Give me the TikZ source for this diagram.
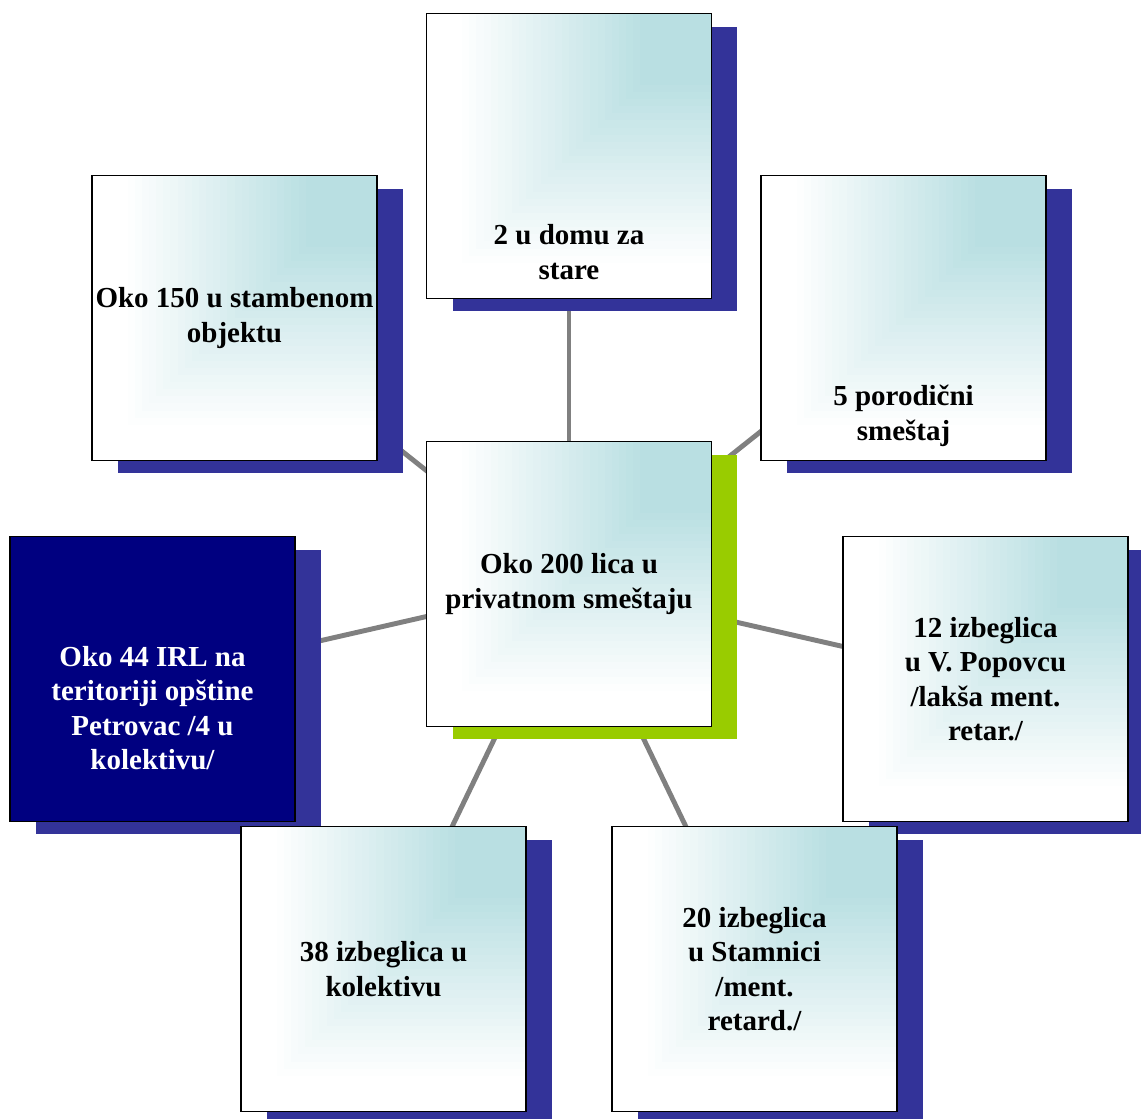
\documentclass[tikz,border=0pt]{standalone}
\usepackage{fontspec}
\setmainfont{Liberation Serif}
\usetikzlibrary{shadows,backgrounds}

\definecolor{boxteal}{RGB}{185,223,226}
\definecolor{shadowblue}{RGB}{51,51,153}
\definecolor{darknavy}{RGB}{0,0,128}
\definecolor{limegreen}{RGB}{153,204,0}
\definecolor{linkgray}{RGB}{128,128,128}

\begin{document}
\begin{tikzpicture}[
	x=0.02cm,y=-0.02cm,
	basebox/.style={
		draw=black,line width=1pt,
		minimum width=5.7cm,
		minimum height=5.7cm,
		inner sep=0pt,
		align=center,
		font=\fontsize{16.5}{19.6}\selectfont\bfseries,
		drop shadow={shadow xshift=0.52cm,shadow yshift=-0.26cm,fill=shadowblue,opacity=1},
	},
	% light box, gradient from the upper right corner
	box/.style={basebox,fill=white,
		path picture={
			\foreach \i in {0,...,40}{
				\pgfmathsetmacro\s{5.7*(1-\i/40)}
				\pgfmathtruncatemacro\pct{min(100,max(0,100*(0.9-(1-\i/40))/0.65))}
				\fill[boxteal!\pct!white] (path picture bounding box.north east)
					rectangle ++(-\s cm,-\s cm);
			}
		}},
	txt/.style={inner sep=0pt,align=center,
		font=\fontsize{16.5}{19.6}\selectfont\bfseries},
	link/.style={draw=linkgray,line width=2.8pt},
]

\useasboundingbox (0,0) rectangle (1141,1118);

% Centre box
\node [box,drop shadow={shadow xshift=0.52cm,shadow yshift=-0.26cm,fill=limegreen,opacity=1}]
	(mid) at (569,584) {Oko 200 lica u\\privatnom smeštaju};

% Outer boxes
\node [box] (top) at (569,156) {};
\node [txt] at ([yshift=-1.92cm]top.center) {2 u domu za\\stare};

\node [box] (tl) at (234.5,318) {Oko 150 u stambenom\\objektu};

\node [box] (tr) at (903.5,318) {};
\node [txt] at ([yshift=-1.96cm]tr.center) {5 porodični\\smeštaj};

\node [basebox,fill=darknavy,text=white] (lft) at (152.5,679) {};
\node [txt,text=white] at ([yshift=-0.58cm]lft.center)
	{Oko 44 IRL na\\teritoriji opštine\\Petrovac /4 u\\kolektivu/};

\node [box] (rgt) at (985.5,679) {12 izbeglica\\u V. Popovcu\\/lakša ment.\\retar./};

\node [box] (bl) at (383.5,969) {38 izbeglica u\\kolektivu};

\node [box] (br) at (754.5,969) {20 izbeglica\\u Stamnici\\/ment.\\retard./};

% Connections from the centre
\begin{scope}[on background layer]
\foreach \n in {top,tl,tr,lft,rgt,bl,br}
	\draw[link] (mid.center) -- (\n.center);
\end{scope}

\end{tikzpicture}
\end{document}
